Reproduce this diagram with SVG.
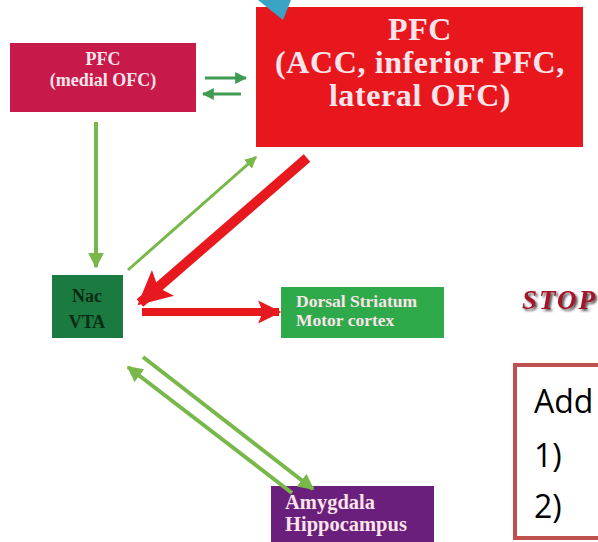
<svg xmlns="http://www.w3.org/2000/svg" width="598" height="542" viewBox="0 0 598 542">
<style>
.serif{font-family:"Liberation Serif","Times New Roman","DejaVu Serif",serif;font-weight:bold}
.lt{fill:#fbe4ea}
.g{stroke:#78b84a;fill:none}
.dg{stroke:#3f9a52;fill:none;stroke-width:3}
.r{stroke:#e8181f;fill:none}
</style>
<defs>
<marker id="ag" viewBox="0 0 10 10" refX="9" refY="5" markerWidth="4" markerHeight="4" orient="auto" markerUnits="strokeWidth"><path d="M0,0 L10,5 L0,10 z" fill="#78b84a"/></marker>
<marker id="ag2" viewBox="0 0 10 10" refX="9" refY="5" markerWidth="4" markerHeight="4" orient="auto" markerUnits="strokeWidth"><path d="M0,0 L10,5 L0,10 z" fill="#3f9a52"/></marker>
<marker id="ar" viewBox="0 0 10 10" refX="9" refY="5" markerWidth="3.4" markerHeight="3.4" orient="auto" markerUnits="strokeWidth"><path d="M0,0 L10,5 L0,10 L2,5 z" fill="#e8181f"/></marker>
<marker id="ar2" viewBox="0 0 10 10" refX="9" refY="5" markerWidth="2.9" markerHeight="2.9" orient="auto" markerUnits="strokeWidth"><path d="M0,0 L10,5 L0,10 L2,5 z" fill="#e8181f"/></marker>
<filter id="shadow" x="-10%" y="-20%" width="130%" height="150%"><feDropShadow dx="2" dy="2" stdDeviation="0.8" flood-color="#333" flood-opacity="0.8"/></filter>
</defs>
<rect width="598" height="542" fill="#ffffff"/>

<g id="pfc-medial">
<rect x="10" y="43" width="186" height="69" fill="#c8194b"/>
<text class="serif lt" x="103" y="65" font-size="18" text-anchor="middle">PFC</text>
<text class="serif lt" x="103" y="86" font-size="18" text-anchor="middle">(medial OFC)</text>
</g>

<g id="pfc-main">
<rect x="256" y="7" width="327" height="140" fill="#e8161d"/>
<text class="serif lt" x="420" y="40" font-size="32" letter-spacing="0.6" text-anchor="middle">PFC</text>
<text class="serif lt" x="420" y="73" font-size="32" letter-spacing="0.6" text-anchor="middle">(ACC, inferior PFC,</text>
<text class="serif lt" x="420" y="106" font-size="32" letter-spacing="0.6" text-anchor="middle">lateral OFC)</text>
</g>

<polygon id="callout-tip" points="258,0 291,0 283,20" fill="#3aa3c6"/>

<g id="nac-vta">
<rect x="52" y="275" width="71" height="63" fill="#1b7a3f"/>
<text class="serif" x="87" y="302" font-size="18" text-anchor="middle" fill="#0b2a14">Nac</text>
<text class="serif" x="87" y="328" font-size="18" text-anchor="middle" fill="#0b2a14">VTA</text>
</g>

<g id="dorsal-striatum">
<rect x="281" y="287" width="163" height="51" fill="#2faa4a"/>
<text class="serif lt" x="296" y="307" font-size="17.5">Dorsal Striatum</text>
<text class="serif lt" x="296" y="326" font-size="17.5">Motor cortex</text>
</g>

<g id="amygdala">
<rect x="271" y="486" width="163" height="56" fill="#6b1f7c"/>
<text class="serif lt" x="285" y="509" font-size="20.5">Amygdala</text>
<text class="serif lt" x="285" y="531" font-size="20.5">Hippocampus</text>
</g>

<g id="stop">
<text x="522" y="309" font-size="27" letter-spacing="2" font-family="Liberation Serif, serif" font-weight="bold" font-style="italic" fill="#a3122a" filter="url(#shadow)">STOP</text>
</g>

<g id="add-box">
<rect x="515" y="365" width="100" height="173" fill="#ffffff" stroke="#c0504d" stroke-width="4"/>
<text x="534" y="413" font-size="32" font-family="Open Sans, sans-serif" fill="#000">Add</text>
<text x="534" y="467" font-size="32" font-family="Open Sans, sans-serif" fill="#000">1)</text>
<text x="534" y="518" font-size="32" font-family="Open Sans, sans-serif" fill="#000">2)</text>
</g>

<g id="connectors">
<line class="dg" x1="205" y1="78" x2="246" y2="78" marker-end="url(#ag2)"/>
<line class="dg" x1="241" y1="94" x2="203" y2="94" marker-end="url(#ag2)"/>
<line class="g" x1="96" y1="122" x2="96" y2="267" stroke-width="4" marker-end="url(#ag)"/>
<line class="g" x1="128" y1="270" x2="256" y2="157" stroke-width="3" marker-end="url(#ag)"/>
<line class="r" x1="307" y1="158" x2="140" y2="303" stroke-width="10" marker-end="url(#ar)"/>
<line class="r" x1="142" y1="312" x2="279" y2="312" stroke-width="8" marker-end="url(#ar2)"/>
<line class="g" x1="143" y1="357" x2="313" y2="489" stroke-width="4" marker-end="url(#ag)"/>
<line class="g" x1="292" y1="493" x2="128" y2="367" stroke-width="4" marker-end="url(#ag)"/>
</g>
</svg>
